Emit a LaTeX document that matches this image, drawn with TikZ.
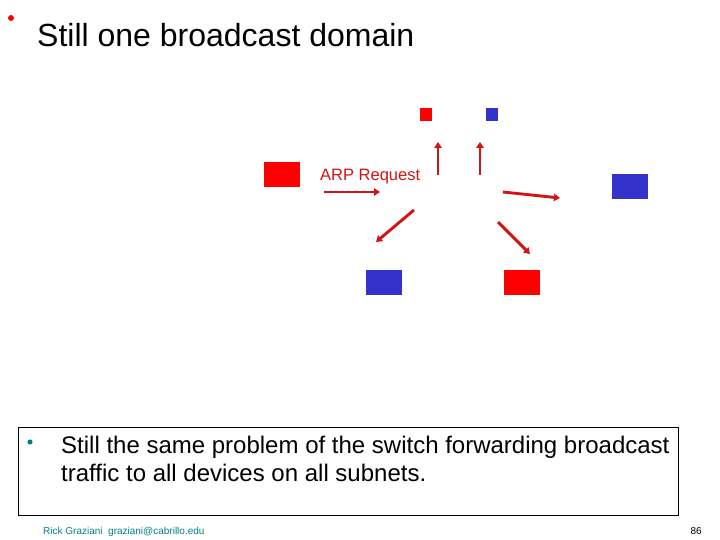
\documentclass[tikz,border=0pt]{standalone}
\usepackage{fontspec}
\setmainfont{Liberation Sans}
\usetikzlibrary{arrows.meta}
\definecolor{pcred}{RGB}{255,0,0}
\definecolor{pcblue}{RGB}{51,51,204}
\definecolor{arrred}{RGB}{210,20,20}
\definecolor{teal2}{RGB}{0,128,128}
\tikzset{
  redbox/.style={fill=pcred, draw=none, inner sep=0pt, outer sep=0pt},
  bluebox/.style={fill=pcblue, draw=none, inner sep=0pt, outer sep=0pt},
  big/.style={minimum width=36pt, minimum height=25pt},
  small/.style={minimum width=12pt, minimum height=13pt},
  flow/.style={draw=arrred, line width=2.9pt, -{Triangle[length=6pt,width=7.5pt]}},
}
\begin{document}
\begin{tikzpicture}[x=1pt,y=-1pt]
\useasboundingbox (0,0) rectangle (720,540);
% title
\fill[pcred] (11,18) circle (3);
\node[anchor=base west, inner sep=0pt, font=\fontsize{32}{38}\selectfont] (title) at (37,47) {Still one broadcast domain};
% hosts
\node[redbox,small] (rs) at (426,114.5) {};
\node[bluebox,small] (bs) at (492,114.5) {};
\node[redbox,big] (rl) at (282,174.5) {};
\node[bluebox,big] (br) at (630,186.5) {};
\node[bluebox,big] (bb) at (384,282.5) {};
\node[redbox,big] (rb) at (522,282.5) {};
% label
\node[anchor=base west, inner sep=0pt, text=arrred, font=\fontsize{16.5}{20}\selectfont] (arp) at (320,181) {ARP Request};
% arrows
\coordinate (a1s) at (324,192); \coordinate (a1e) at (380,192);
\coordinate (a2s) at (438,175); \coordinate (a2e) at (438,142);
\coordinate (a3s) at (480,175); \coordinate (a3e) at (480,142);
\coordinate (a4s) at (503,192); \coordinate (a4e) at (560,198);
\coordinate (a5s) at (414,210); \coordinate (a5e) at (376,242);
\coordinate (a6s) at (498,222); \coordinate (a6e) at (530,254);
\draw[flow] (a1s) -- (a1e);
\draw[flow] (a2s) -- (a2e);
\draw[flow] (a3s) -- (a3e);
\draw[flow] (a4s) -- (a4e);
\draw[flow] (a5s) -- (a5e);
\draw[flow] (a6s) -- (a6e);
% text box
\draw[black, line width=1pt] (18,427) rectangle (678,515);
\fill[teal2] (30,442) circle (2.6);
\node[anchor=base west, inner sep=0pt, font=\fontsize{24}{28}\selectfont] (l1) at (61,453) {Still the same problem of the switch forwarding broadcast};
\node[anchor=base west, inner sep=0pt, font=\fontsize{24}{28}\selectfont] (l2) at (61,481) {traffic to all devices on all subnets.};
% footer
\node[anchor=base west, inner sep=0pt, text=teal2, font=\fontsize{10}{12}\selectfont] (foot) at (43,534) {Rick Graziani\ \ graziani@cabrillo.edu};
\node[anchor=base east, inner sep=0pt, font=\fontsize{10}{12}\selectfont] (pg) at (702,534) {86};
\end{tikzpicture}
\end{document}
